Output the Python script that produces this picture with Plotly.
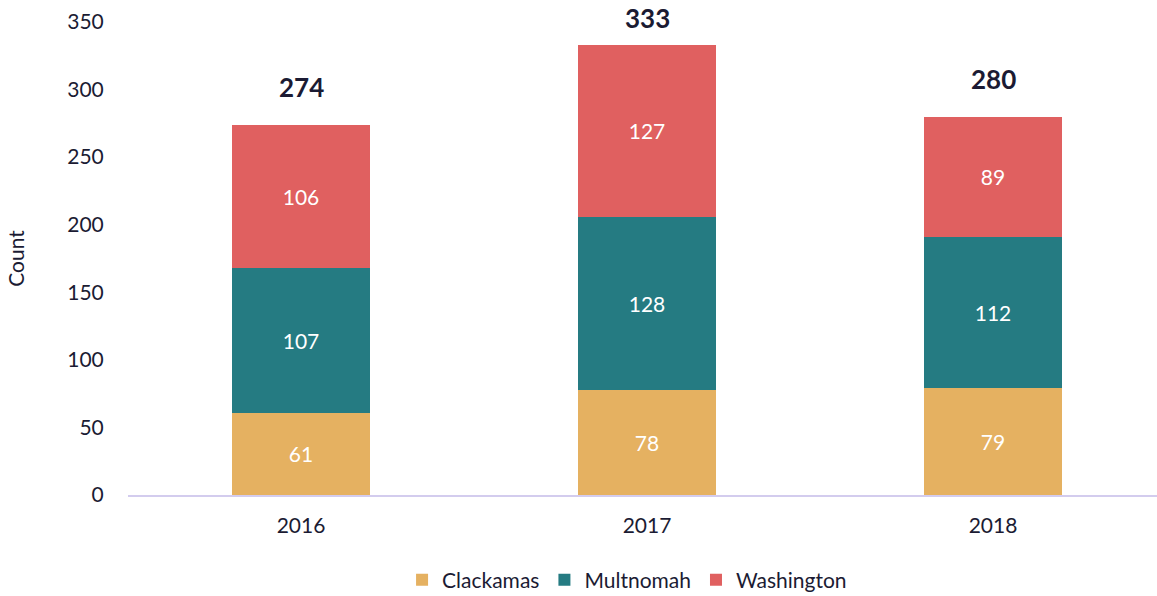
import plotly.graph_objects as go

years = ['2016', '2017', '2018']
clackamas = [61, 78, 79]
multnomah = [107, 128, 112]
washington = [106, 127, 89]
totals = [274, 333, 280]

colors = {
    'Clackamas': '#E5B161',
    'Multnomah': '#257B82',
    'Washington': '#E06060',
}
text_color = '#1B1B33'
font_family = 'Lato, "Noto Sans", sans-serif'

W, H = 1157, 596
M_T, M_B = 22, 101
Y_MAX = 350
px_per_unit = (H - M_T - M_B) / Y_MAX

fig = go.Figure()

for name, vals in [('Clackamas', clackamas), ('Multnomah', multnomah), ('Washington', washington)]:
    fig.add_trace(go.Bar(
        x=years,
        y=vals,
        name=name,
        marker=dict(color=colors[name], line=dict(width=0)),
        text=[str(v) for v in vals],
        textposition='inside',
        insidetextanchor='middle',
        textfont=dict(color='white', size=21, family=font_family),
        width=0.4,
    ))

# totals above each bar (category index, so '2016' isn't read as a serial number)
# the label is pulled down when it would run off the top of the page
label_h = 36
for i, tot in enumerate(totals):
    headroom = (Y_MAX - tot) * px_per_unit + M_T
    shift = min(20, headroom - label_h)
    fig.add_annotation(
        x=i, y=tot, text=f'<b>{tot}</b>',
        showarrow=False, yanchor='bottom', yshift=shift,
        font=dict(size=26, color=text_color, family=font_family),
    )

fig.update_layout(
    barmode='stack',
    width=W,
    height=H,
    margin=dict(l=128, r=0, t=M_T, b=M_B),
    plot_bgcolor='white',
    paper_bgcolor='white',
    font=dict(family=font_family, color=text_color, size=21),
    uniformtext=dict(mode='show', minsize=10),
    legend=dict(
        orientation='h',
        x=0.485, xanchor='center',
        yref='container',
        y=1 - 580 / H, yanchor='middle',
        font=dict(size=21, color=text_color),
        itemwidth=30,
        traceorder='normal',
    ),
    xaxis=dict(
        type='category',
        range=[-0.5, 2.474],
        automargin=False,
        showgrid=False,
        showline=True,
        linecolor='#D3CCEE',
        linewidth=2,
        ticks='outside',
        ticklen=11,
        tickcolor='rgba(0,0,0,0)',
        tickfont=dict(size=21, color=text_color),
        zeroline=False,
    ),
    yaxis=dict(
        range=[0, Y_MAX],
        dtick=50,
        automargin=False,
        showgrid=False,
        zeroline=False,
        showline=False,
        ticks='outside',
        ticklen=19,
        tickcolor='rgba(0,0,0,0)',
        tickfont=dict(size=21, color=text_color),
        title=dict(text='Count', font=dict(size=21, color=text_color), standoff=36),
    ),
)

# drop the browser's default 8px body margin so the figure sits at the corner
fig.write_html(
    'out.html',
    config={'displayModeBar': False},
    post_script="document.body.style.margin='0';",
)
